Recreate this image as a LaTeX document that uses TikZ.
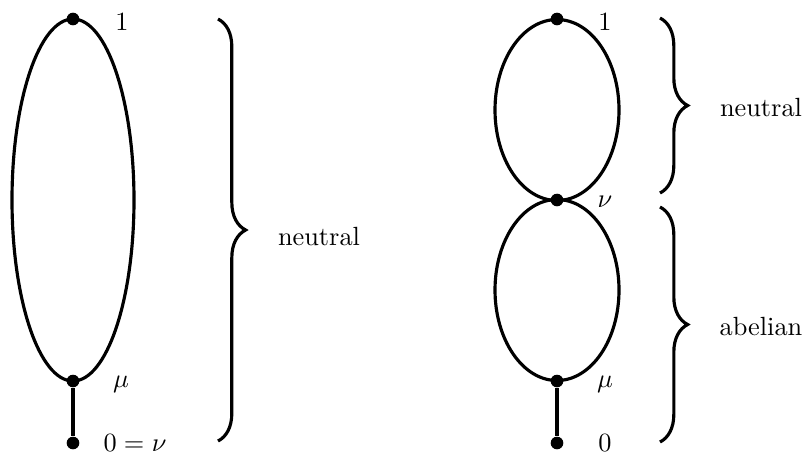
\documentclass[tikz,border=0pt]{standalone}
\usepackage{amsmath,amssymb}
\usetikzlibrary{positioning,decorations.pathreplacing,calc}
\tikzset{
  lat/dot/.style={circle, fill, inner sep=0pt, minimum size=4.8pt},
  lat/line/.style={line width=1.2pt},
  lat/brace/.style={line width=1.2pt, decorate, decoration={brace, amplitude=10.5pt}},
  lat/lbl/.style={inner sep=1pt}
}
\begin{document}
\begin{tikzpicture}[x=0.38pt, y=-0.38pt]
  \useasboundingbox (0,0) rectangle (804,455);

  % left lattice
  \coordinate (c1) at (73,200);
  \draw[lat/line] (c1) ellipse [x radius=61, y radius=181];
  \node[lat/dot] (top1) at (73,19) {};
  \node[lat/dot] (mu1) at (73,381) {};
  \node[lat/dot] (zero1) at (73,443) {};
  \draw[lat/line] (mu1) -- (zero1);
  \node[lat/lbl] (ltop1) at (122,22) {$1$};
  \node[lat/lbl] (lmu1) at (121,384) {$\mu$};
  \node[lat/lbl] (lzero1) at (135,443) {$0=\nu$};

  \coordinate (b1s) at (218,19);
  \coordinate (b1e) at (218,441);
  \draw[lat/brace] (b1s) -- (b1e);
  \node[lat/lbl] (neut1) at (319,236) {neutral};

  % right lattice
  \coordinate (c2) at (557,110);
  \coordinate (c3) at (557,290);
  \draw[lat/line] (c2) ellipse [x radius=62, y radius=90.5];
  \draw[lat/line] (c3) ellipse [x radius=62, y radius=90.5];
  \node[lat/dot] (top2) at (557,19) {};
  \node[lat/dot] (nu2) at (557,200) {};
  \node[lat/dot] (mu2) at (557,381) {};
  \node[lat/dot] (zero2) at (557,443) {};
  \draw[lat/line] (mu2) -- (zero2);
  \node[lat/lbl] (ltop2) at (605,22) {$1$};
  \node[lat/lbl] (lnu2) at (605,202) {$\nu$};
  \node[lat/lbl] (lmu2) at (605,384) {$\mu$};
  \node[lat/lbl] (lzero2) at (605,443) {$0$};

  \coordinate (b2s) at (660,18);
  \coordinate (b2e) at (660,193);
  \coordinate (b3s) at (660,207);
  \coordinate (b3e) at (660,442);
  \draw[lat/brace] (b2s) -- (b2e);
  \draw[lat/brace] (b3s) -- (b3e);
  \node[lat/lbl] (neut2) at (761,108) {neutral};
  \node[lat/lbl] (abel2) at (761,326) {abelian};
\end{tikzpicture}
\end{document}
